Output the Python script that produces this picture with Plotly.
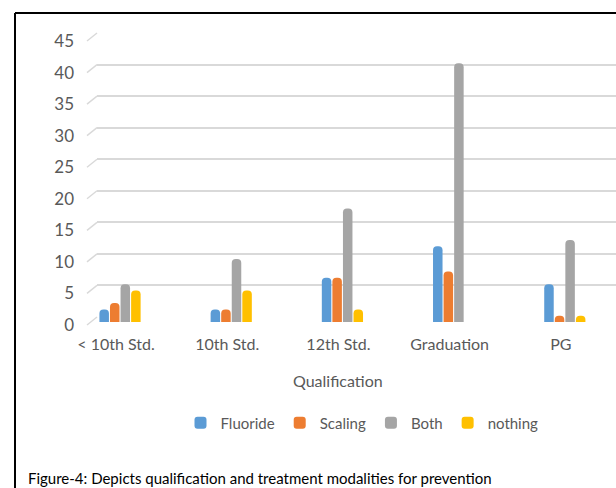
import plotly.graph_objects as go

categories = ["< 10th Std.", "10th Std.", "12th Std.", "Graduation", "PG"]
fluoride = [2, 2, 7, 12, 6]
scaling = [3, 2, 7, 8, 1]
both = [6, 10, 18, 41, 13]
nothing = [5, 5, 2, 0, 1]
y_ticks = [0, 5, 10, 15, 20, 25, 30, 35, 40, 45]

series = [
    ("Fluoride", fluoride, "#5B9BD5"),
    ("Scaling", scaling, "#ED7D31"),
    ("Both", both, "#A5A5A5"),
    ("nothing", nothing, "#FFC000"),
]

W, H = 616, 488
L, R, T, B = 97, 0, 33, 166
PW, PH = W - L - R, H - T - B
FONT = "Lato"
GREY = "#595959"
UNIT = 284 / 45.0          # pixels per unit
FLOOR = 5                  # bars' front floor sits 5px below the back-wall zero line

def px_x(p):
    return (p - L) / PW

def px_y(p):
    return 1 - (p - T) / PH

xpos = list(range(len(categories)))

fig = go.Figure()
# invisible helper so the back-wall (gridline) axis gets drawn
fig.add_trace(go.Scatter(x=[0], y=[0], xaxis="x", yaxis="y", mode="markers",
                         marker=dict(size=1, opacity=0), hoverinfo="skip",
                         showlegend=False))
for name, vals, col in series:
    fig.add_trace(go.Bar(
        x=xpos, y=vals, name=name, xaxis="x", yaxis="y2",
        marker=dict(color=col, line=dict(width=0)),
    ))

shapes = []
# slanted gridline stubs (3D back wall look)
for v in y_ticks:
    yp = px_y(T + PH - FLOOR - v * UNIT)
    shapes.append(dict(type="line", xref="paper", yref="paper",
                       x0=px_x(87), y0=yp - 8 / PH, x1=0, y1=yp,
                       line=dict(color="#D9D9D9", width=1.5)))
# frame
shapes.append(dict(type="line", xref="paper", yref="paper",
                   x0=px_x(15), y0=px_y(13), x1=px_x(620), y1=px_y(13),
                   line=dict(color="black", width=2)))
shapes.append(dict(type="line", xref="paper", yref="paper",
                   x0=px_x(15), y0=px_y(13), x1=px_x(15), y1=px_y(495),
                   line=dict(color="black", width=2)))

annotations = [
    dict(text="Qualification", xref="x", yref="paper", x=2, xshift=-4,
         y=px_y(380), yanchor="middle", xanchor="center", showarrow=False,
         font=dict(family=FONT, size=16, color=GREY)),
    dict(text="Figure-4: Depicts qualification and treatment modalities for prevention",
         xref="paper", yref="paper", x=px_x(26), y=px_y(478),
         xanchor="left", yanchor="middle", showarrow=False,
         font=dict(family=FONT, size=15, color="black")),
]

fig.update_layout(
    width=W, height=H,
    margin=dict(l=L, r=R, t=T, b=B, pad=0),
    paper_bgcolor="white", plot_bgcolor="rgba(0,0,0,0)",
    barmode="group", bargap=0.62, bargroupgap=0.1,
    barcornerradius="50%",
    font=dict(family=FONT, color=GREY),
    showlegend=True,
    legend=dict(orientation="h", x=px_x(362), xanchor="center",
                y=px_y(423), yanchor="middle",
                font=dict(family=FONT, size=15, color=GREY),
                itemwidth=30, bgcolor="rgba(0,0,0,0)"),
    xaxis=dict(range=[-0.207, -0.207 + PW / 111.2],
               tickmode="array", tickvals=xpos, ticktext=categories,
               showgrid=False, zeroline=False, showline=False, ticks="",
               tickfont=dict(family=FONT, size=16, color=GREY),
               ticklabelstandoff=16, ticklabelshift=-4, anchor="y"),
    yaxis=dict(domain=[FLOOR / PH, 1], range=[0, 45], anchor="x",
               tickmode="array", tickvals=y_ticks,
               showgrid=True, gridcolor="#D9D9D9", gridwidth=1.5,
               zeroline=False, showline=False, ticks="",
               tickfont=dict(family=FONT, size=17, color=GREY),
               ticklabelstandoff=22, ticklabelshift=8),
    yaxis2=dict(domain=[0, 1], range=[0, PH / UNIT], anchor="x",
                showgrid=False, zeroline=False, showline=False,
                showticklabels=False, ticks=""),
    shapes=shapes,
    annotations=annotations,
)

fig.write_html("out.html")
